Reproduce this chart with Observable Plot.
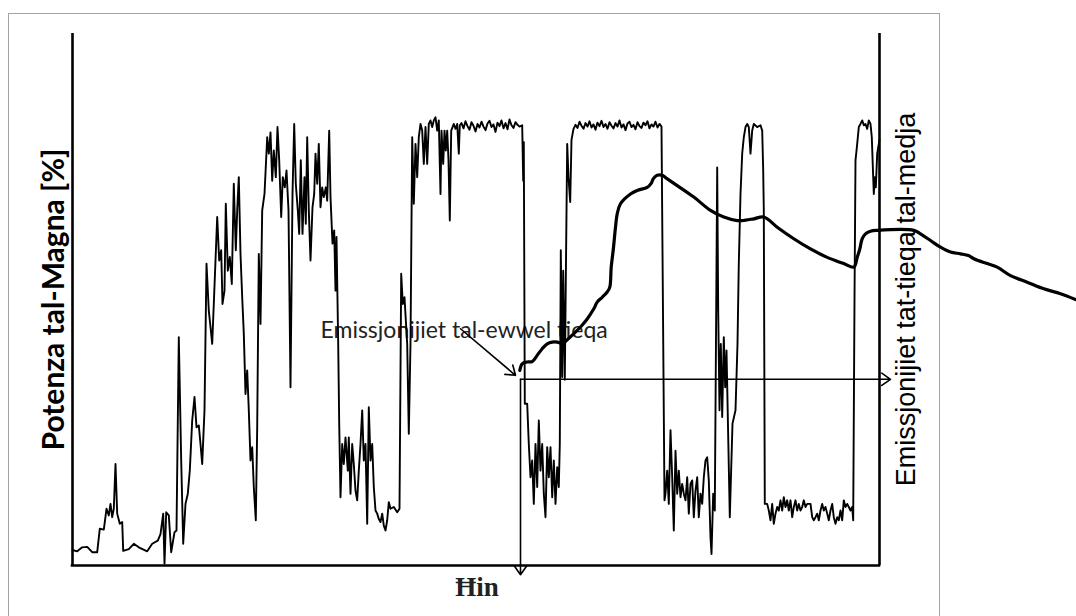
<!DOCTYPE html>
<html>
<head>
<meta charset="utf-8">
<script src="https://cdn.jsdelivr.net/npm/d3@7"></script>
<script src="https://cdn.jsdelivr.net/npm/@observablehq/plot@0.6"></script>
<style>
  html, body { margin: 0; padding: 0; background: #fff; }
  #wrap { position: relative; width: 1076px; height: 616px; overflow: hidden; }
  #frame { position: absolute; left: 8px; top: 13px; width: 932px; height: 620px;
           border: 1px solid #a3a3a3; box-sizing: border-box; pointer-events: none; }
  svg { position: absolute; left: 0; top: 0; }
</style>
</head>
<body>
<div id="wrap"><div id="frame"></div></div>
<script>
// Engine power trace (time index, power %)
const powerTime = [
  0,4.7,9.7,14.7,19.7,24.7,27.3,31.3,34,36.3,38,39.7,41.3,43,44.7,47.3,49.7,50.7,56.3,61.3,66.3,74.7,79.7,85.3,88,
  90.7,92,93.7,96.3,98.7,102,104,106.3,108.7,110.7,113,115.3,117.3,119.7,122,124,126.3,128,129.7,132,134,136.3,138,
  139.7,141.3,144.7,146.7,148.7,150,152,153.3,155.3,157.3,159.3,161.3,163.3,164.7,166.3,168,169.7,171.3,173,174.7,
  176.3,178,179.7,181.3,183.3,184.7,186.3,188,189.7,192,194.7,196.3,198,199.7,201.3,203.3,205,206.7,208.7,210.3,
  212.3,214,216,218,220,221.7,223.3,225.3,226.7,228.3,230,232,233.3,234.7,236.3,238,240,241.7,243,244.7,246.3,248,
  249.7,251.3,253.3,254.7,256.7,258,260,261.7,263,264,265.7,266.7,268,269.7,271.3,273,275.3,
  276.3,278,279.7,281.3,283,284.7,286.3,288,289.7,291.3,293,294.7,296.3,298,299.7,301.3,303,304.7,306.3,308,309.7,
  311.3,313,314.7,316.3,318,321.3,324.7,327,328.7,330.3,332,334.7,336.3,338,339.7,341.3,343,344.7,346.3,348,349.7,
  351.3,353,354.7,356.3,358,359.7,361.3,363,364.7,366.3,368,369,370.7,372,373.3,374.7,376,377.3,378.7,381.3,383,
  384.7,386.3,387.3,389,391,393,395,397,399,401,403,405,407,409,411,413,415,417,419,421,423,425,427,429,431,433,435,
  437,439,441,443,445,447,449.7,450.7,451.3,452.3,454.7,456.3,458,459.7,461.3,463,464.7,466.3,468,469.7,471.3,473,
  474.7,476.3,478,479.7,481.3,483,484.7,486.3,487.3,488.3,489.7,490.7,492.3,494.7,496,497.7,499,501,
  503,505,507,509,511,513,515,517,519,521,523,525,527,529,531,533,535,537,539,541,543,545,547,549,551,553,555,557,
  559,561,563,565,567,569,571,573,575,577,579,581,583,585,587,589,592,593,594.7,596.3,598,599.7,601.3,603,604.7,
  606.3,608,609.7,611.3,613,614.7,616.3,618,619.7,621.3,623,624.7,626.3,628,629.7,631.3,633,634.7,636.3,638,639,
  640.7,642.3,644.7,645.7,647,648.3,649.7,651.3,652.7,654,657.3,660,663,665,666.3,668,669.7,671.3,673,674.7,676.3,
  678,679.7,681.3,684.7,688,689.7,690.7,691.3,692.3,694.7,696.3,698,699.7,701.3,703,704.7,706.3,708,709.7,711.3,
  713,714.7,716.3,718,719.7,721.3,723,724.7,726.3,728,729.7,731.3,733,734.7,738,739.7,741.3,743,744.7,746.3,748,
  749.7,751.3,753,754.7,756.3,758,759.7,761.3,763,764.7,766.3,768,769.7,771.3,773,774.7,776.3,778,779.7,780.7,782,
  783,784.7,786.3,788,789.7,791.3,793,794.7,796.3,798,799.3,800.7,801.3,802.3,803.3,804.7,806.3,807
];
const powerValue = [
  3.5,3.2,4.1,4.2,3.0,3.0,8.3,8.1,12.8,11.3,13.9,10.9,12.8,22.9,11.7,9.4,9.8,3.3,3.7,4.9,4.1,3.2,4.9,5.6,7.1,
  11.7,0.4,12.0,11.3,3.0,7.5,7.9,51.5,23.7,4.9,13.9,16.2,21.4,32.7,38.0,31.2,31.6,27.4,22.9,35.0,68.1,57.5,53.8,
  50.0,59.0,78.6,68.8,71.1,59.0,62.0,81.6,66.5,69.6,63.5,86.1,71.1,80.1,87.6,70.3,60.5,52.3,38.7,44.0,
  35.0,23.7,26.7,17.7,10.2,31.2,70.3,54.5,80.1,83.8,96.6,92.9,97.7,86.8,93.6,87.6,98.9,91.4,78.6,87.6,
  85.3,89.1,80.1,40.2,83.8,99.6,86.1,80.1,74.8,91.4,74.8,87.6,77.1,96.6,80.1,68.8,80.8,83.8,92.9,86.1,95.1,80.8,
  85.3,83.1,85.3,82.3,98.1,83.1,72.6,75.6,62.0,74.1,50.0,32.0,15.4,27.4,22.9,28.9,21.4,
  28.9,16.2,27.4,22.9,16.9,14.7,21.4,27.4,35.0,23.7,27.4,9.4,35.7,23.7,27.4,17.7,12.4,11.7,10.5,9.8,11.7,
  9.0,7.9,10.2,14.3,12.8,13.2,12.0,12.8,65.8,59.0,60.5,50.0,29.7,50.0,96.6,81.6,95.1,87.6,96.6,99.6,98.1,
  90.6,98.9,90.6,99.6,100.4,98.9,100.4,101.1,98.1,100.4,83.8,98.1,90.6,98.1,93.6,98.1,91.4,77.8,98.1,99.6,98.5,
  99.6,92.9,99.3,99.8,98.6,100.2,99.1,98.3,100.0,99.2,97.9,99.6,98.8,100.1,99.0,98.2,99.7,100.3,98.9,99.5,97.8,99.9,99.1,100.4,98.6,99.8,98.4,
  100.6,99.3,98.7,100.0,99.4,99.0,99.3,86.8,95.5,36.5,36.5,27.4,19.9,23.7,13.9,27.4,17.7,32.7,21.4,27.4,16.2,10.9,
  26.7,19.9,26.7,15.4,23.7,13.9,22.2,17.7,27.4,71.1,42.5,66.5,41.9,95.1,87.6,82.0,96.0,98.5,
  99.4,98.7,100.1,99.2,98.5,99.8,99.0,100.2,98.8,99.5,98.3,99.9,99.1,100.3,98.9,99.6,98.5,100.0,99.2,98.6,99.8,99.0,100.4,98.8,99.5,98.2,99.7,100.1,
  98.9,99.4,98.4,100.0,99.1,98.7,99.9,99.3,100.2,98.6,99.5,99.0,100.1,98.8,99.6,99.0,14.7,16.2,21.4,13.9,30.5,19.9,7.9,25.9,16.2,
  21.4,15.4,18.4,16.2,14.7,19.9,11.7,18.4,19.2,10.9,16.9,19.9,10.9,16.2,13.9,19.9,23.7,24.4,19.2,6.4,2.6,
  16.2,12.4,89.8,57.5,35.0,50.0,33.5,51.5,40.2,48.5,10.9,32.0,35.0,50.0,68.1,83.8,92.9,96.6,98.9,99.6,98.9,
  92.9,98.1,99.6,98.9,99.3,98.1,89.1,80.1,13.9,13.9,12.4,10.2,13.9,9.4,11.7,13.2,12.4,14.7,12.4,15.4,
  13.2,14.7,12.4,14.7,10.9,13.2,14.7,12.4,13.9,12.4,13.2,14.7,13.2,13.9,13.9,10.9,10.2,10.9,11.7,10.2,12.4,
  13.9,12.4,13.2,11.7,10.2,12.4,13.9,10.9,9.4,10.9,10.2,12.4,10.2,14.7,13.2,13.9,13.2,12.4,13.2,10.2,60.0,
  91.4,95.1,98.9,99.6,100.4,99.3,99.6,98.5,100.4,99.6,96.6,87.6,83.8,87.6,85.3,92.9,95.1,96.0
];

// Windowed (moving-average) emissions, same relative vertical units
const emissionTime = [
  447.3,449.7,454.7,459.7,464.7,469.7,474.7,479.7,484.7,489.7,494.7,501.3,508,514.7,521.3,524.7,529.7,534.7,537.3,
  538.7,540.7,543,544.7,548,558,564.7,574.7,578.7,580.7,584.7,589.7,593,604.7,621.3,638,651.3,664.7,669.7,681.3,
  691.3,704.7,721.3,738,754.7,771.3,781.3,784.7,787.3,789.7,793,798,804.7,841.3,848,858,868,878,888,896,901.3,
  914.7,924.7,938,954.7,971.3,988,1003
];
const emissionValue = [
  44.0,45.5,45.9,46.0,47.4,48.9,50.0,50.4,50.4,50.1,50.9,52.3,53.8,55.6,57.9,59.4,60.5,61.7,62.8,
  67.3,71.1,76.3,79.3,81.6,83.8,84.6,85.3,86.2,87.2,88.0,88.0,87.5,85.7,83.1,80.1,78.6,77.8,77.8,78.2,
  78.6,76.3,73.7,71.4,69.5,68.1,67.3,69.5,71.4,73.7,74.8,75.4,75.6,75.6,74.8,73.3,71.8,70.7,70.3,69.9,69.2,
  68.1,67.3,65.4,63.9,62.4,61.3,60.0
];

// Annotation arrows (time, power units)
const arrowFrom = [[388, 53.4], [448, 42.0], [448, 42.0]];
const arrowTo   = [[443, 42.9], [818, 42.0], [448, -2.1]];

const yLabel = "Potenza tal-Magna [%]";
const y2Label = "Emissjonijiet tat-tieqa tal-medja";
const xLabel = "Ħin";
const noteText = "Emissjonijiet tal-ewwel tieqa";
const notePos = [248, 53.0];

const power = powerTime.map((t, i) => ({t, p: powerValue[i]}));
const emission = emissionTime.map((t, i) => ({t, e: emissionValue[i]}));
const arrows = arrowFrom.map((a, i) => ({x1: a[0], y1: a[1], x2: arrowTo[i][0], y2: arrowTo[i][1]}));

const chart = Plot.plot({
  width: 1076,
  height: 616,
  marginLeft: 72,
  marginRight: 197,
  marginTop: 33,
  marginBottom: 51,
  x: {domain: [0, 807], axis: null},
  y: {domain: [0, 120], axis: null},
  style: {background: "transparent", overflow: "visible", color: "#000"},
  marks: [
    Plot.text([noteText], {x: () => notePos[0], y: () => notePos[1], text: d => d, textAnchor: "start",
      lineAnchor: "middle", fontFamily: "Lato", fontSize: 23, fill: "#222"}),
    Plot.line(power, {x: "t", y: "p", stroke: "#000", strokeWidth: 1.9, strokeLinejoin: "round"}),
    Plot.line(emission, {x: "t", y: "e", stroke: "#000", strokeWidth: 3.2, strokeLinejoin: "round", curve: "catmull-rom"}),
    Plot.ruleX([0, 807], {y1: 0, y2: 120, stroke: "#000", strokeWidth: 2.6}),
    Plot.ruleY([0], {x1: 0, x2: 807, stroke: "#000", strokeWidth: 2.6, strokeLinecap: "square"}),
    Plot.arrow(arrows, {x1: "x1", y1: "y1", x2: "x2", y2: "y2", stroke: "#000", strokeWidth: 1.6,
      headLength: 10, headAngle: 70}),
    Plot.text([yLabel], {frameAnchor: "left", dx: -18, rotate: -90, text: d => d,
      textAnchor: "middle", lineAnchor: "middle",
      fontFamily: "Lato", fontWeight: "bold", fontSize: 30, fill: "#000"}),
    Plot.text([y2Label], {frameAnchor: "right", dx: 27, rotate: -90, text: d => d,
      textAnchor: "middle", lineAnchor: "middle",
      fontFamily: "Liberation Sans", fontSize: 27, fill: "#000"}),
    Plot.text([xLabel], {frameAnchor: "bottom", dx: 1, dy: 22, text: d => d,
      textAnchor: "middle", lineAnchor: "middle",
      fontFamily: "Liberation Serif", fontWeight: "bold", fontSize: 27, fill: "#222"})
  ]
});
document.getElementById("wrap").appendChild(chart);
</script>
</body>
</html>
